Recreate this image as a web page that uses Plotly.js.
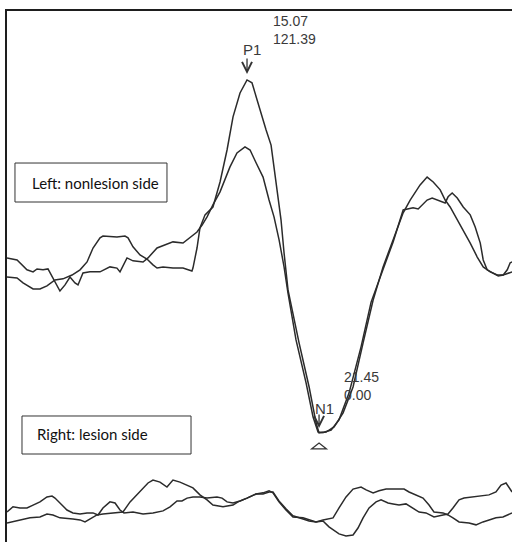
<!DOCTYPE html>
<html>
<head>
<meta charset="utf-8">
<script src="https://cdn.plot.ly/plotly-3.0.1.min.js"></script>
<style>html,body{margin:0;padding:0;background:#fff;}#chart{width:512px;height:542px;}</style>
</head>
<body>
<div id="chart"></div>
<script>
// Left (nonlesion) side: two superimposed traces (latency ms, amplitude)
const leftT1 = [-6.19,-5.30,-4.77,-3.88,-3.27,-2.65,-1.94,-1.23,-0.43,0.28,0.90,1.43,2.05,2.31,3.55,4.26,4.53,4.97,5.59,6.21,6.74,7.10,7.63,8.51,9.40,10.19,10.28,10.64,10.90,11.35,12.05,12.68,13.30,13.83,14.45,15.07,15.51,15.87,16.31,16.76,17.20,17.46,17.82,18.08,18.35,18.70,19.68,20.57,21.19,21.45,22.07,22.78,23.58,24.46,25.35,26.24,27.12,28.01,28.90,29.52,29.96,30.40,31.02,31.56,32.18,32.62,33.06,33.69,34.22,34.84,35.46,35.99,36.61,37.23,37.76,38.21,38.56];
const leftV1 = [53.6,53.3,51.6,49.5,49.5,50.6,52.6,53.0,54.3,56.1,58.8,63.6,67.1,67.7,67.4,67.7,67.1,64.0,61.2,59.8,57.8,56.7,57.1,56.7,56.7,55.7,56.7,63.6,70.5,75.0,77.7,86.3,97.3,108.7,116.9,121.39,120.4,115.6,110.0,104.2,99.0,91.5,82.5,73.3,61.9,49.2,31.0,15.8,3.4,0.0,0.3,2.1,6.9,15.8,31.0,45.7,57.1,66.4,75.7,80.1,82.5,85.3,88.0,86.3,83.6,80.1,77.7,73.3,69.8,65.3,60.5,57.1,55.4,54.3,54.3,55.0,55.4];
const leftT2 = [-6.19,-5.30,-4.42,-3.88,-3.53,-3.00,-2.56,-2.12,-1.50,-1.05,-0.61,-0.17,0.10,0.54,1.16,2.05,2.93,3.55,3.82,4.44,4.97,5.86,6.30,7.10,7.98,8.51,9.40,10.02,10.64,11.09,11.53,12.05,12.68,13.56,14.18,14.89,15.34,15.87,16.49,17.02,17.46,17.91,18.35,18.70,19.41,20.30,20.92,21.36,21.81,22.52,23.22,24.11,25.17,26.06,27.12,28.01,28.90,29.25,29.78,30.23,30.58,31.02,31.47,32.00,32.62,32.88,33.24,33.69,34.22,34.84,35.28,35.73,35.99,36.34,36.79,37.32,37.76,38.12,38.38,38.56];
const leftV2 = [60.2,59.5,56.1,55.4,56.4,56.1,56.4,53.3,48.8,50.9,53.6,51.6,50.9,55.0,55.4,55.4,57.1,56.7,55.4,60.2,59.2,58.8,60.2,63.6,65.0,65.7,65.3,67.1,69.1,71.5,74.3,78.4,82.9,91.5,96.3,98.4,97.3,92.9,88.0,80.1,74.3,66.4,57.1,48.1,32.0,17.2,5.5,0.3,0.2,1.0,4.5,13.8,29.6,45.0,56.1,65.7,76.7,77.0,77.4,77.0,78.4,80.1,80.8,80.1,79.1,81.2,82.5,80.8,77.7,75.0,70.8,65.3,59.5,56.1,55.0,54.0,54.3,56.1,58.5,58.8];

// Right (lesion) side: two superimposed traces, drawn on an offset baseline
const rightT1 = [-6.19,-5.66,-5.04,-4.42,-3.88,-3.27,-2.65,-2.20,-1.94,-1.50,-0.88,-0.35,0.28,0.90,1.43,1.87,2.31,2.93,3.38,3.82,4.17,4.97,5.86,6.74,7.63,8.25,8.87,9.31,9.76,10.28,10.90,11.53,12.41,12.86,13.30,13.83,14.45,15.07,15.87,16.49,17.02,17.37,17.90,18.52,19.14,20.03,20.56,21.18,21.80,22.69,23.22,23.84,24.46,25.17,25.62,26.24,26.76,27.39,28.27,28.98,29.42,30.04,30.66,31.19,31.63,32.43,32.87,33.31,33.85,34.73,35.35,35.97,36.50,37.12,37.74,38.27,38.54];
const rightV1 = [-27.2,-25.4,-25.8,-25.8,-24.8,-23.7,-22.0,-21.7,-22.4,-24.1,-26.5,-27.5,-27.9,-27.5,-27.5,-28.2,-25.8,-23.7,-24.1,-26.5,-27.5,-27.2,-27.9,-27.5,-26.8,-25.4,-23.4,-23.4,-22.4,-22.0,-22.0,-22.4,-22.0,-22.4,-23.7,-24.1,-23.4,-22.4,-21.0,-20.6,-19.9,-20.6,-23.7,-26.5,-28.9,-29.2,-29.9,-30.6,-29.9,-29.2,-25.8,-22.0,-19.3,-18.6,-19.6,-20.6,-19.9,-19.3,-19.3,-19.3,-20.3,-21.3,-22.4,-24.8,-27.2,-27.5,-28.2,-29.2,-30.6,-31.0,-31.6,-30.6,-29.9,-29.2,-28.9,-27.9,-27.5];
const rightT2 = [-6.19,-5.04,-4.15,-3.27,-2.65,-2.12,-1.50,-0.35,0.28,0.72,1.16,1.78,2.31,3.20,4.08,4.71,5.59,6.30,6.74,7.36,7.98,8.51,9.13,9.76,10.28,10.90,11.53,12.05,12.94,13.83,14.27,15.07,15.87,16.49,17.02,17.37,17.90,18.52,19.14,20.03,20.56,21.18,21.80,22.33,23.22,23.84,24.46,24.90,25.35,25.88,26.50,26.94,27.56,28.01,28.53,29.15,29.78,30.31,30.92,31.63,32.43,32.87,33.31,33.85,34.29,35.09,35.97,36.50,37.12,37.57,38.01,38.27,38.54];
const rightV2 = [-31.0,-29.9,-29.2,-28.9,-27.9,-28.2,-29.2,-29.6,-29.9,-30.6,-29.6,-28.2,-27.9,-27.5,-27.2,-23.7,-20.3,-17.2,-16.2,-16.9,-18.6,-16.2,-16.9,-17.9,-18.9,-21.3,-23.0,-24.8,-25.4,-24.8,-23.7,-22.4,-21.0,-21.0,-20.3,-20.3,-23.4,-26.1,-28.5,-29.6,-30.3,-30.6,-30.3,-32.3,-34.7,-35.4,-35.1,-32.7,-29.2,-25.8,-23.7,-23.0,-24.1,-24.4,-24.8,-24.4,-25.8,-27.2,-27.5,-28.9,-28.2,-27.9,-25.8,-23.0,-22.4,-22.0,-21.7,-21.3,-20.3,-17.9,-17.2,-18.6,-20.3];

// Peak markers
const peakNames = ['P1', 'N1'];
const peakLatency = [15.07, 21.45];
const peakAmplitude = [121.39, 0.00];

// Panel labels
const panelLabels = ['Left: nonlesion side', 'Right: lesion side'];

const lineStyle = {color: '#2b2b2b', width: 1.5};
const traces = [
  [leftT1, leftV1], [leftT2, leftV2], [rightT1, rightV1], [rightT2, rightV2]
].map(([t, v]) => ({x: t, y: v, type: 'scatter', mode: 'lines', line: lineStyle, hoverinfo: 'skip'}));

const txtFont = {family: 'Liberation Sans, Arial, sans-serif', size: 15, color: '#3a3a3a'};
const valFont = {family: 'Liberation Sans, Arial, sans-serif', size: 14, color: '#3a3a3a'};
// per-peak label placement (pixel offsets)
const peakPlace = [
  {ay: -23, standoff: 6, lx: 5, ly: 30, vx: 25, vy: 50},
  {ay: -20, standoff: 5, lx: 5, ly: 24, vx: 24, vy: 46.5}
];
const annotations = [];
peakNames.forEach((name, i) => {
  const p = peakPlace[i];
  const x = peakLatency[i], y = peakAmplitude[i];
  annotations.push({x, y, xref: 'x', yref: 'y', text: '', showarrow: true, ax: 0, ay: p.ay,
    standoff: p.standoff, arrowhead: 5, arrowsize: 1.5, arrowwidth: 1.3, arrowcolor: '#333'});
  annotations.push({x, y, xref: 'x', yref: 'y', text: name, showarrow: false, xshift: p.lx, yshift: p.ly, font: txtFont});
  annotations.push({x, y, xref: 'x', yref: 'y',
    text: peakLatency[i].toFixed(2) + '<br>' + peakAmplitude[i].toFixed(2), showarrow: false,
    xanchor: 'left', align: 'left', xshift: p.vx, yshift: p.vy, font: valFont, borderpad: 0});
});

const boxFont = {family: 'Lato, Carlito, Calibri, sans-serif', size: 15, color: '#111'};
const boxPos = [
  {x0: 0.0158, x1: 0.3168, y0: 0.6403, y1: 0.7137, tx: 0.0455, ty: 0.6761},
  {x0: 0.0297, x1: 0.3644, y0: 0.1657, y1: 0.2373, tx: 0.0554, ty: 0.2034}
];
const shapes = [];
panelLabels.forEach((lab, i) => {
  const b = boxPos[i];
  shapes.push({type: 'rect', xref: 'paper', yref: 'paper', x0: b.x0, x1: b.x1, y0: b.y0, y1: b.y1,
    line: {color: '#333', width: 1}, fillcolor: 'rgba(0,0,0,0)'});
  annotations.push({xref: 'paper', yref: 'paper', x: b.tx, y: b.ty, xanchor: 'left', yanchor: 'middle',
    text: lab, showarrow: false, font: boxFont});
});
// open triangle marker below N1
shapes.push({type: 'path', xref: 'x', yref: 'y', xsizemode: 'pixel', ysizemode: 'pixel',
  xanchor: peakLatency[1], yanchor: peakAmplitude[1],
  path: 'M-7.5,-16 L7.5,-16 L0,-10 Z', line: {color: '#333', width: 1.2}, fillcolor: 'rgba(0,0,0,0)'});

const layout = {
  width: 512, height: 542,
  margin: {l: 7, r: 0, t: 11, b: 0, pad: 0},
  paper_bgcolor: '#fff', plot_bgcolor: '#fff',
  showlegend: false,
  xaxis: {range: [-6.19, 38.54], side: 'top', showline: true, linecolor: '#1e1e1e', linewidth: 2,
    showgrid: false, zeroline: false, showticklabels: false, ticks: ''},
  yaxis: {range: [-37.5, 145.1], showline: true, linecolor: '#1e1e1e', linewidth: 2,
    showgrid: false, zeroline: false, showticklabels: false, ticks: ''},
  annotations, shapes
};
Plotly.newPlot('chart', traces, layout, {staticPlot: true, displayModeBar: false});
</script>
</body>
</html>
